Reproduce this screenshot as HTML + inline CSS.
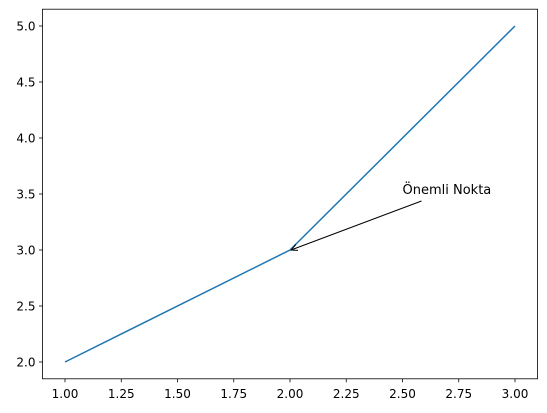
<!DOCTYPE html>
<html><head><meta charset="utf-8"><style>body{margin:0;background:#fff}svg{display:block;font-family:"DejaVu Sans","Liberation Sans",sans-serif}</style></head>
<body>
<svg id="c" width="547" height="413"></svg>
<script>
const xs=[1,2,3];
const ys=[2,3,5];
const xTicks=[1.00,1.25,1.50,1.75,2.00,2.25,2.50,2.75,3.00];
const yTicks=[2.0,2.5,3.0,3.5,4.0,4.5,5.0];
const annText="Önemli Nokta";
const annXY=[2,3];
const annTextXY=[2.5,3.5];
const L=42.5,R=537.5,T=9.2,B=378.8,x0=0.9,x1=3.1,y0=1.85,y1=5.15;
const sx=v=>L+(v-x0)/(x1-x0)*(R-L);
const sy=v=>B-(v-y0)/(y1-y0)*(B-T);
const svg=document.getElementById('c');
const NS='http://www.w3.org/2000/svg';
function mk(t,a,p){const e=document.createElementNS(NS,t);for(const k in a)e.setAttribute(k,a[k]);(p||svg).appendChild(e);return e;}
let e;
e=mk('rect',{x:L,y:T,width:R-L,height:B-T,fill:'none',stroke:'#000','stroke-width':0.8});


xTicks.forEach(v=>{
 const x=sx(v);
 e=mk('line',{x1:x,x2:x,y1:B,y2:B+3.5,stroke:'#000','stroke-width':0.8});
 
 
 e=mk('text',{x:x,y:B+19,'font-size':12,'text-anchor':'middle'});e.textContent=v.toFixed(2);
 
 
});
yTicks.forEach(v=>{
 const y=sy(v);
 e=mk('line',{x1:L-3.5,x2:L,y1:y,y2:y,stroke:'#000','stroke-width':0.8});
 
 
 e=mk('text',{x:L-7,y:y+4.3,'font-size':12,'text-anchor':'end'});e.textContent=v.toFixed(1);
 
 
});
e=mk('polyline',{points:xs.map((v,i)=>sx(v)+','+sy(ys[i])).join(' '),fill:'none',stroke:'#1f77b4','stroke-width':1.5});


const tx=sx(annTextXY[0]),ty=sy(annTextXY[1]);
e=mk('text',{x:tx,y:ty,'font-size':13});e.textContent=annText;


const ax=sx(annXY[0]),ay=sy(annXY[1]);
const sx0=tx+19,sy0=ty+7;
const g=mk('g',{stroke:'#000','stroke-width':1,fill:'none'});


mk('line',{x1:sx0,y1:sy0,x2:ax+1,y2:ay},g);
const ang=Math.atan2(sy0-ay,sx0-ax);
const hl=8,hw=0.4;
mk('polyline',{points:(ax+hl*Math.cos(ang-hw))+','+(ay+hl*Math.sin(ang-hw))+' '+(ax+1)+','+ay+' '+(ax+hl*Math.cos(ang+hw))+','+(ay+hl*Math.sin(ang+hw))},g);
</script>
</body></html>
